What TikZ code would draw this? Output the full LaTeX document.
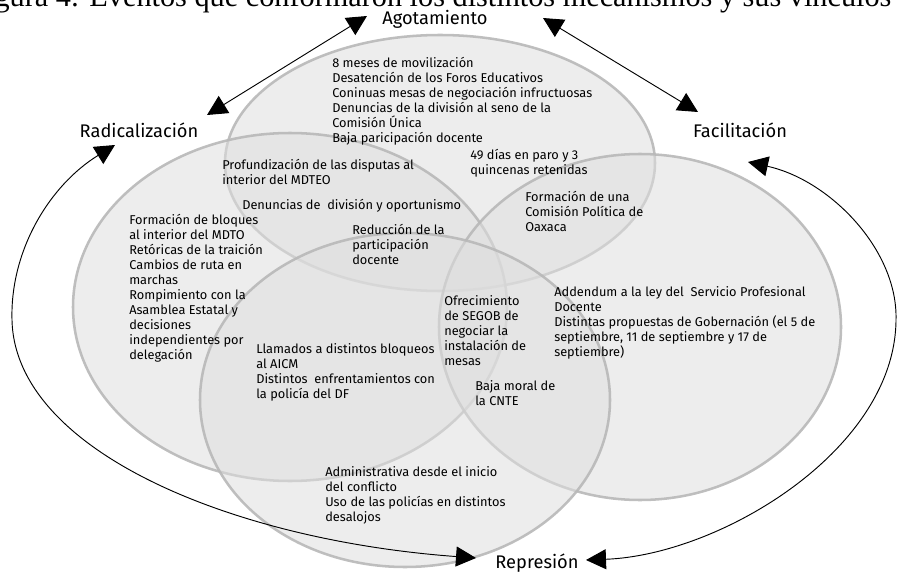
\documentclass[tikz,border=0pt]{standalone}
\usepackage{fontspec}
\setmainfont{Fira Sans}
\newfontfamily\titulofont{Liberation Serif}
\usetikzlibrary{positioning,arrows.meta}

\tikzset{
	venn/.style={fill=black!13, fill opacity=0.55, draw=black!28, draw opacity=0.9, line width=1.9pt},
	evento/.style={align=left, anchor=north west, inner sep=0pt, font=\fontsize{9.6}{11.25}\selectfont, execute at begin node=\strut},
	mecanismo/.style={anchor=base, inner sep=0pt, font=\fontsize{13.7}{15}\selectfont},
	vinculo/.style={{Triangle[length=15pt,width=15pt]}-{Triangle[length=15pt,width=15pt]}, line width=0.7pt}
}

\begin{document}
\begin{tikzpicture}[x=0.75pt,y=-0.75pt]
	\path[use as bounding box,clip] (0,0) rectangle (899,574);
	\node[anchor=base west, inner sep=0pt, font=\titulofont\fontsize{22.7}{26}\selectfont] (titulo) at (-31,7) {Figura 4: Eventos que conformaron los distintos mecanismos y sus vínculos};

	\foreach \cx/\cy/\rx/\ry in {440/163/215/128, 290/307/217/174, 640/327/201/173, 405/400/205/167} {
		\draw[venn] (\cx,\cy) ellipse [x radius=\rx, y radius=\ry];
	}

	\node[mecanismo] (agot) at (435,25) {Agotamiento};
	\node[mecanismo] (radic) at (139,138) {Radicalización};
	\node[mecanismo] (facil) at (740,138) {Facilitación};
	\node[mecanismo] (repr) at (537,568) {Represión};

	\node[evento] (meses) at (332,56.5) {8 meses de movilización\\Desatención de los Foros Educativos\\Coninuas mesas de negociación infructuosas\\Denuncias de la división al seno de la\\Comisión Única\\Baja paricipación docente};
	\node[evento] (paro) at (470,148.5) {49 días en paro y 3\\quincenas retenidas};
	\node[evento] (disputas) at (222,158.5) {Profundización de las disputas al\\interior del MDTEO};
	\node[evento] (oportunismo) at (242,198.5) {Denuncias de~ división y oportunismo};
	\node[evento] (comision) at (525,190.5) {Formación de una\\Comisión Política de\\Oaxaca};
	\node[evento] (bloques) at (129,213.5) {Formación de bloques\\al interior del MDTO\\Retóricas de la traición\\Cambios de ruta en\\marchas\\Rompimiento con la\\Asamblea Estatal y\\decisiones\\independientes por\\delegación};
	\node[evento] (reduccion) at (352,223.5) {Reducción de la\\participación\\docente};
	\node[evento] (segob) at (444,295.5) {Ofrecimiento\\de SEGOB de\\negociar la\\instalación de\\mesas};
	\node[evento] (addendum) at (554,286.5) {Addendum a la ley del~ Servicio Profesional\\Docente\\Distintas propuestas de Gobernación (el 5 de\\septiembre, 11 de septiembre y 17 de\\septiembre)};
	\node[evento] (aicm) at (256,343.5) {Llamados a distintos bloqueos\\al AICM\\Distintos~ enfrentamientos con\\la policía del DF};
	\node[evento] (moral) at (475,380.5) {Baja moral de\\la CNTE};
	\node[evento] (desalojos) at (325,466.5) {Administrativa desde el inicio\\del conflicto\\Uso de las policías en distintos\\desalojos};

	\coordinate (radic-agot) at (207,115);
	\coordinate (agot-radic) at (367,16);
	\coordinate (agot-facil) at (543,18);
	\coordinate (facil-agot) at (698,112);
	\coordinate (radic-repr) at (115,145);
	\coordinate (repr-radic) at (476,558);
	\coordinate (facil-repr) at (748,162);
	\coordinate (repr-facil) at (586,560);

	\draw[vinculo] (radic-agot) -- (agot-radic);
	\draw[vinculo] (agot-facil) -- (facil-agot);
	\draw[vinculo] (radic-repr) .. controls (50,185) and (10,250) .. (12,320) .. controls (15,450) and (230,540) .. (repr-radic);
	\draw[vinculo] (facil-repr) .. controls (830,180) and (898,250) .. (896,320) .. controls (895,450) and (720,555) .. (repr-facil);
\end{tikzpicture}
\end{document}
